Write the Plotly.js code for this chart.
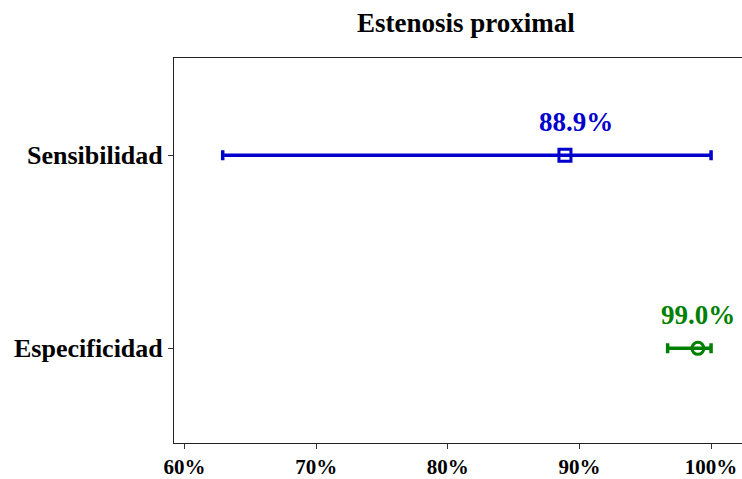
<!DOCTYPE html>
<html>
<head>
<meta charset="utf-8">
<script src="https://cdn.plot.ly/plotly-3.0.1.min.js"></script>
<style>html,body{margin:0;padding:0;background:#fff;}#chart{width:742px;height:479px;}</style>
</head>
<body>
<div id="chart"></div>
<script>
const categories = ["Sensibilidad", "Especificidad"];
const estimates = [0.889, 0.990];
const lowerCI = [0.629, 0.967];
const upperCI = [1.000, 1.000];
const labels = ["88.9%", "99.0%"];
const colors = ["#0000CC", "#008000"];
const symbols = ["square-open", "circle-open"];
const yPos = [1, 0];
const xTickVals = [0.6, 0.7, 0.8, 0.9, 1.0];
const xTickText = ["60%", "70%", "80%", "90%", "100%"];

const FONT = "Liberation Serif, Times New Roman, serif";

const traces = categories.map((c, i) => ({
  type: "scatter",
  mode: "markers",
  x: [estimates[i]],
  y: [yPos[i]],
  name: c,
  marker: {symbol: symbols[i], size: 12, color: colors[i], line: {width: 3, color: colors[i]}},
  error_x: {
    type: "data", symmetric: false,
    array: [upperCI[i] - estimates[i]],
    arrayminus: [estimates[i] - lowerCI[i]],
    color: colors[i], thickness: 3.5, width: 5
  },
  hoverinfo: "skip"
}));

const xShifts = [11, 0];
const annotations = categories.map((c, i) => ({
  x: estimates[i], y: yPos[i], xref: "x", yref: "y",
  text: labels[i], showarrow: false, yshift: 33, xshift: xShifts[i],
  font: {family: FONT, size: 27, color: colors[i], weight: "bold"}
}));

const layout = {
  width: 742, height: 479,
  margin: {l: 174, r: 0, t: 58, b: 36},
  paper_bgcolor: "#fff", plot_bgcolor: "#fff",
  showlegend: false,
  title: {text: "Estenosis proximal", x: 0.628, xanchor: "center", y: 0.953, yanchor: "middle",
    font: {family: FONT, size: 27, color: "#000", weight: "bold"}},
  xaxis: {
    range: [0.592, 1.0235],
    tickvals: xTickVals, ticktext: xTickText,
    ticks: "outside", ticklen: 5, tickcolor: "#333", tickwidth: 1,
    showline: true, linecolor: "#222", linewidth: 1, mirror: true,
    showgrid: false, zeroline: false,
    tickfont: {family: FONT, size: 21, color: "#000", weight: "bold"}
  },
  yaxis: {
    range: [-0.49, 1.503],
    tickvals: yPos, ticktext: categories,
    ticks: "outside", ticklen: 5, tickcolor: "#333", tickwidth: 1,
    showline: true, linecolor: "#222", linewidth: 1,
    showgrid: false, zeroline: false,
    tickfont: {family: FONT, size: 26, color: "#000", weight: "bold"}
  },
  annotations: annotations
};

Plotly.newPlot("chart", traces, layout, {staticPlot: true, displayModeBar: false});
</script>
</body>
</html>
